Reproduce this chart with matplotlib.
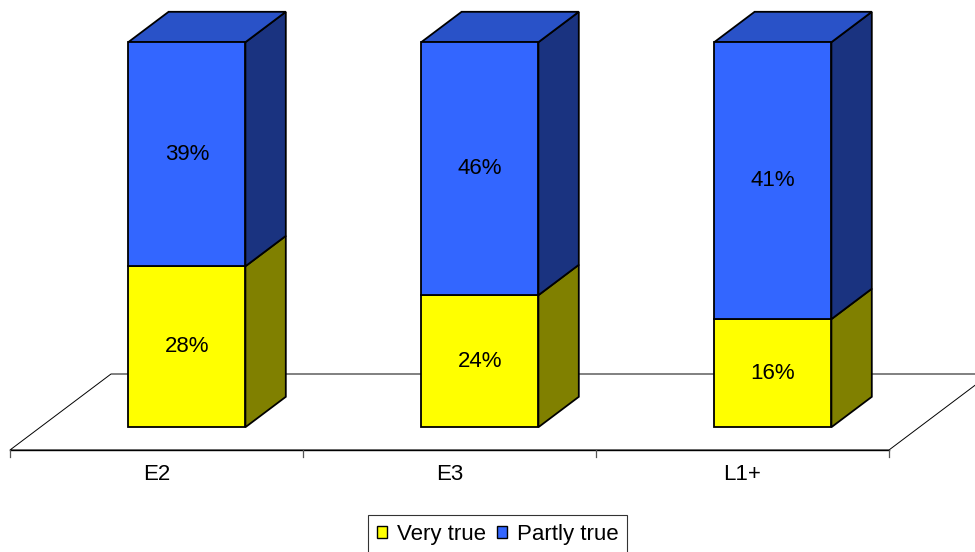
import matplotlib
matplotlib.use('Agg')
import matplotlib.pyplot as plt
from matplotlib.patches import Polygon, Patch

categories = ['E2', 'E3', 'L1+']
very_true = [28, 24, 16]
partly_true = [39, 46, 41]
series_names = ['Very true', 'Partly true']
front_colors = ['#FFFF00', '#3366FF']
side_colors = ['#808000', '#1A3380']
top_colors = ['#CCCC00', '#2952C8']

plt.rcParams['font.family'] = ['Liberation Sans', 'DejaVu Sans']

W, H = 975, 552
fig = plt.figure(figsize=(W / 100, H / 100), dpi=100)
ax = fig.add_axes([0, 0, 1, 1])

# scale: pixels per category and per unit share
px_x = 293.0
px_y = 385.0
ax.set_xlim(-10 / px_x, (W - 10) / px_x)
ax.set_ylim(-(H - 450) / px_y, 450 / px_y)
ax.axis('off')

# oblique depth offsets (full floor depth)
DX = 101 / px_x
DY = 76 / px_y


def proj(x, y, z):
    return (x + z * DX, y + z * DY)


n = len(categories)

# floor
floor = [proj(0, 0, 0), proj(n, 0, 0), proj(n, 0, 1), proj(0, 0, 1)]
ax.add_patch(Polygon(floor, closed=True, facecolor='white', edgecolor='black',
                     linewidth=0.7, zorder=1))
ax.plot([0, n], [0, 0], color='black', linewidth=1.0, zorder=2)
for i in range(n + 1):
    ax.plot([i, i], [0, -7 / px_y], color='#555555', linewidth=0.9, zorder=2)

# stacked bars normalised to 100%
bar_w = 0.4
z0, z1 = 0.3, 0.7
series = [very_true, partly_true]
for i in range(n):
    total = sum(s[i] for s in series)
    x0 = i + 0.5 - bar_w / 2
    x1 = i + 0.5 + bar_w / 2
    bottom = 0.0
    for k, s in enumerate(series):
        h = s[i] / total
        y0, y1 = bottom, bottom + h
        front = [proj(x0, y0, z0), proj(x1, y0, z0), proj(x1, y1, z0), proj(x0, y1, z0)]
        side = [proj(x1, y0, z0), proj(x1, y0, z1), proj(x1, y1, z1), proj(x1, y1, z0)]
        kw = dict(closed=True, edgecolor='black', linewidth=1.3, joinstyle='miter', zorder=3)
        ax.add_patch(Polygon(side, facecolor=side_colors[k], **kw))
        if k == len(series) - 1:
            top = [proj(x0, y1, z0), proj(x1, y1, z0), proj(x1, y1, z1), proj(x0, y1, z1)]
            ax.add_patch(Polygon(top, facecolor=top_colors[k], **kw))
        ax.add_patch(Polygon(front, facecolor=front_colors[k], **kw))
        cx, cy = proj(i + 0.5, (y0 + y1) / 2, z0)
        ax.text(cx, cy, f'{s[i]}%', ha='center', va='center', fontsize=16,
                color='black', zorder=5)
        bottom = y1

# category labels
for i, c in enumerate(categories):
    ax.text(i + 0.5, -25 / px_y, c, ha='center', va='center', fontsize=16, color='black')

handles = [Patch(facecolor=front_colors[k], edgecolor='black', linewidth=1.0)
           for k in range(len(series))]
leg = fig.legend(handles, series_names, loc='upper center',
                 bbox_to_anchor=(497.5 / W, 1 - 515 / H), ncol=2, fontsize=16,
                 frameon=True, fancybox=False, handlelength=0.45, handleheight=0.45,
                 handletextpad=0.45, columnspacing=0.5, borderpad=0.4,
                 borderaxespad=0)
leg.get_frame().set_edgecolor('black')
leg.get_frame().set_linewidth(0.8)

fig.savefig('out.png', dpi=100)
